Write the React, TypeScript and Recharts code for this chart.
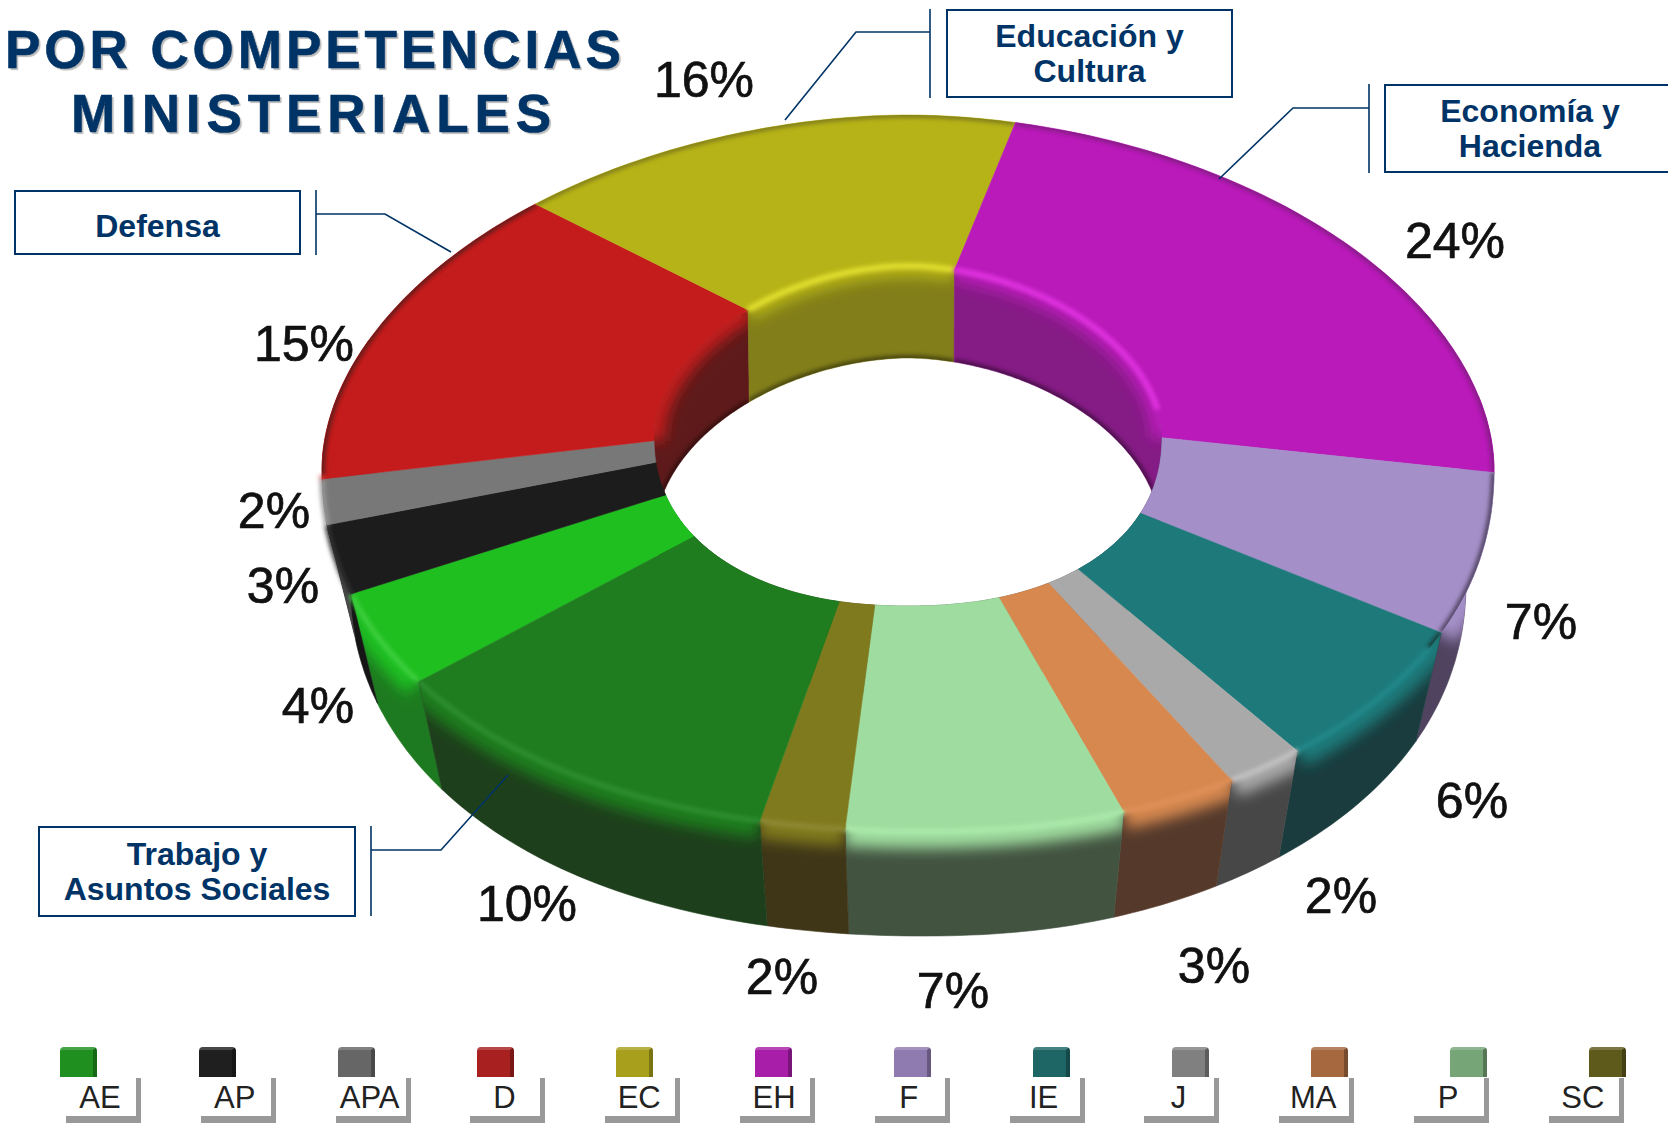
import React from 'react';
import { PieChart, Pie, Legend } from 'recharts';

// clockwise from the dark green / bright green seam
const categories = ['AE', 'AP', 'APA', 'D', 'EC', 'EH', 'F', 'IE', 'J', 'MA', 'P', 'SC', 'TAS'];
const shares = [4, 3, 2, 15, 16, 24, 7, 6, 2, 3, 7, 2, 10];
const sliceColors = ['#1FBF20', '#1C1C1C', '#787878', '#C41C1C', '#B6B318', '#B91AB9', '#A58FC8', '#1E7A7A', '#A9A9A9', '#D6884F', '#9FDC9F', '#807A1E', '#1F7D1F'];
const wallColors = ['#1E7A20', '#151515', '#4A4A4A', '#5E1A1A', '#827E1A', '#851B85', '#4F4360', '#1A3C3E', '#474747', '#553A2B', '#425340', '#3F3618', '#1E3F1C'];
const rimColors = ['#3FD040', '#333333', '#999999', '#D84040', '#E2DF2E', '#E030E0', '#C0B0DC', '#22888A', '#C4C4C4', '#E09058', '#ACEBAC', '#8F8A35', '#2F8F33'];
const legendColors = ['#1F8F1F', '#1F1F1F', '#666666', '#A82020', '#A8A01C', '#A81EA8', '#8F7BB0', '#1E6666', '#808080', '#A5683F', '#76A678', '#5E5A1C'];

const chartData = categories.map((name, i) => ({ name, value: shares[i], fill: sliceColors[i] }));

const NAVY = '#003366';
const FONT = '"Liberation Sans", Arial, sans-serif';

// tilted ring: two ellipses per edge, and a perspective factor that squeezes the far side
const TILT = 0.121;
const OUTER = { rx: 586, ry: 354, cy: 469, nearP: 2.14, farP: 1.9, nearY: 1.024, skew: 15 };
const OUTER_BASE = { rx: 558, ry: 355, cy: 581, nearP: 2.14, farP: 2, nearY: 1, skew: 15 };
const INNER = { rx: 254, ry: 170, cy: 436, nearP: 2.2, farP: 1.85, nearY: 1, skew: 0 };
const INNER_BASE = { rx: 252, ry: 170, cy: 528, nearP: 2, farP: 1.85, nearY: 1, skew: 0 };
const CX = 908;
const START = -139.4;

const labelSpots = [
  [318, 723], [283, 603], [274, 528], [304, 361], [704, 97], [1455, 258], [1541, 639],
  [1472, 818], [1341, 913], [1214, 983], [953, 1008], [782, 994], [527, 921],
];

const project = (ring: any, theta: number) => {
  const a = (theta * Math.PI) / 180;
  const d = 1 - TILT * -Math.cos(a);
  const u = (Math.sin(a) * Math.sqrt(1 - TILT * TILT)) / d;
  const v = (-Math.cos(a) - TILT) / d;
  const p = v > 0 ? ring.nearP : ring.farP;
  const f = Math.pow(Math.pow(Math.abs(u), p) + Math.pow(Math.abs(v), p), -1 / p);
  const skew = v > 0 ? ring.skew * Math.pow(v, 12) : 0;
  return [CX + ring.rx * u * f + skew, ring.cy + ring.ry * v * f * (v > 0 ? ring.nearY : 1)];
};

const arcPoints = (ring: any, from: number, to: number) => {
  const steps = Math.max(2, Math.ceil(Math.abs(to - from)));
  const pts = [];
  for (let i = 0; i <= steps; i++) pts.push(project(ring, from + ((to - from) * i) / steps));
  return pts;
};

const toD = (pts: number[][], close = false) =>
  pts.map((p, i) => `${i ? 'L' : 'M'}${p[0].toFixed(1)},${p[1].toFixed(1)}`).join('') + (close ? 'Z' : '');

const band = (a: any, b: any, from: number, to: number) =>
  toD([...arcPoints(a, from, to), ...arcPoints(b, to, from)], true);

// Recharts angles run counter-clockwise from 3 o'clock
const clockwise = (props: any) => [90 - props.startAngle, 90 - props.endAngle];

const overlap = (from: number, to: number, lo: number, hi: number) => {
  const f = Math.max(from, lo);
  const t = Math.min(to, hi);
  return t > f ? [f, t] : null;
};

const WallSector = (props: any) => {
  const [from, to] = clockwise(props);
  const i = categories.indexOf(props.name);
  const near = overlap(from, to, 85, 285) || overlap(from, to, 445, 645);
  const inner = band(INNER, INNER_BASE, from, to);
  return (
    <g>
      <clipPath id={`hole-${i}`}>
        <path d={inner} />
      </clipPath>
      <path d={inner} fill={wallColors[i]} stroke={wallColors[i]} strokeWidth={0.6} />
      <g clipPath={`url(#hole-${i})`}>
        <path d={toD(arcPoints(INNER, from, to))} fill="none" stroke={props.fill} strokeWidth={22} filter="url(#wide)" />
        <path d={toD(arcPoints(INNER_BASE, from, to))} fill="none" stroke="#000" strokeOpacity={0.45} strokeWidth={6} filter="url(#soft)" />
      </g>
      {near && (
        <g>
          <clipPath id={`side-${i}`}>
            <path d={band(OUTER, OUTER_BASE, near[0], near[1])} />
          </clipPath>
          <path d={band(OUTER, OUTER_BASE, near[0], near[1])} fill={wallColors[i]} stroke={wallColors[i]} strokeWidth={0.6} />
          <path d={toD(arcPoints(OUTER, near[0], near[1]))} fill="none" stroke={props.fill} strokeWidth={34} filter="url(#wide)" clipPath={`url(#side-${i})`} />
        </g>
      )}
    </g>
  );
};

const FaceSector = (props: any) => {
  const [from, to] = clockwise(props);
  const i = categories.indexOf(props.name);
  const face = band(OUTER, INNER, from, to);
  const near = overlap(from, to, 115, 262) || overlap(from, to, 485, 622);
  const far = overlap(from, to, 262, 485);
  const innerFar = overlap(from, to, 315, 448);
  return (
    <g>
      <clipPath id={`face-${i}`}>
        <path d={face} />
      </clipPath>
      <path d={face} fill={props.fill} stroke={props.fill} strokeWidth={0.6} />
      {far && (
        <path d={toD(arcPoints(OUTER, far[0], far[1]))} fill="none" stroke={wallColors[i]} strokeWidth={6}
          filter="url(#soft)" clipPath={`url(#face-${i})`} />
      )}
      {near && (
        <path d={toD(arcPoints(OUTER, near[0], near[1]))} fill="none" stroke={rimColors[i]} strokeWidth={5}
          filter="url(#soft)" />
      )}
      {innerFar && (
        <path d={toD(arcPoints(INNER, innerFar[0], innerFar[1]))} fill="none" stroke={rimColors[i]} strokeWidth={6}
          filter="url(#soft)" />
      )}
    </g>
  );
};

const PercentLabel = (props: any) => {
  const spot = labelSpots[props.index];
  return (
    <text x={spot[0]} y={spot[1]} textAnchor="middle" fontFamily={FONT} fontSize={50} fill="#111" stroke="#111" strokeWidth={0.7}>
      {props.value}%
    </text>
  );
};

const LegendStrip = () => {
  const items = categories.slice(0, legendColors.length);
  return (
    <div style={{ position: 'relative', width: 1668, height: 80, fontFamily: FONT }}>
      {items.map((name, i) => {
        const chipLeft = 60 + 139 * i;
        const boxRight = 141 + 134.8 * i;
        return (
          <React.Fragment key={name}>
            <div style={{
              position: 'absolute', left: chipLeft, top: 4, width: 37, height: 30, borderRadius: '4px 4px 0 0',
              background: legendColors[i], boxSizing: 'border-box',
              borderTop: '3px solid rgba(255,255,255,0.18)', borderRight: '4px solid rgba(0,0,0,0.28)',
            }} />
            <div style={{ position: 'absolute', left: boxRight - 75, top: 35, width: 75, height: 45, boxSizing: 'border-box', borderRight: '5px solid #999', borderBottom: '7px solid #999' }} />
            <div style={{ position: 'absolute', left: boxRight - 91, top: 37, width: 100, textAlign: 'center', fontSize: 31, lineHeight: '36px', color: '#222', fontWeight: 400 }}>
              {name}
            </div>
          </React.Fragment>
        );
      })}
    </div>
  );
};

const calloutBoxes = [
  { lines: ['Educación y', 'Cultura'], left: 946, top: 9, width: 287, height: 89, pad: 0 },
  { lines: ['Economía y', 'Hacienda'], left: 1384, top: 84, width: 292, height: 89, pad: 0 },
  { lines: ['Defensa'], left: 14, top: 190, width: 287, height: 65, pad: 8 },
  { lines: ['Trabajo y', 'Asuntos Sociales'], left: 38, top: 826, width: 318, height: 91, pad: 0 },
];

const leaders = [
  'M930,9V98M930,32H856L785,120',
  'M1369,84V173M1369,108H1293L1219,179',
  'M316,190V255M316,214H385L451,252',
  'M371,826V916M371,850H441L508,775',
];

const titleStyle: React.CSSProperties = {
  position: 'absolute', fontFamily: FONT, fontWeight: 700, fontSize: 53, lineHeight: '60px', color: NAVY,
  textShadow: '2px 2px 1px #bbbbbb', whiteSpace: 'nowrap', WebkitTextStroke: `0.6px ${NAVY}`,
};

const App = () => {
  return (
    <div style={{ position: 'absolute', left: 0, top: 0, width: 1668, height: 1123, overflow: 'hidden', background: '#fff' }}>
      <PieChart width={1668} height={1123} margin={{ top: 0, right: 0, bottom: 0, left: 0 }}>
        <defs>
          <filter id="soft" filterUnits="userSpaceOnUse" x="0" y="0" width="1668" height="1123">
            <feGaussianBlur stdDeviation="2" />
          </filter>
          <filter id="wide" filterUnits="userSpaceOnUse" x="0" y="0" width="1668" height="1123">
            <feGaussianBlur stdDeviation="7" />
          </filter>
        </defs>
        <Pie data={chartData} dataKey="value" nameKey="name" cx={CX} cy={426} outerRadius={586} innerRadius={252}
          startAngle={START} endAngle={START - 360} isAnimationActive={false} legendType="none" shape={WallSector} />
        <Pie data={chartData} dataKey="value" nameKey="name" cx={CX} cy={426} outerRadius={586} innerRadius={252}
          startAngle={START} endAngle={START - 360} isAnimationActive={false} shape={FaceSector}
          label={PercentLabel} labelLine={false} />
        <Legend content={LegendStrip} wrapperStyle={{ position: 'absolute', left: 0, top: 1043, width: 1668, height: 80 }} />
      </PieChart>

      <div style={{ ...titleStyle, left: 5, top: 20, letterSpacing: 3.95 }}>POR COMPETENCIAS</div>
      <div style={{ ...titleStyle, left: 71, top: 84, letterSpacing: 5.9 }}>MINISTERIALES</div>

      <svg width={1668} height={1123} style={{ position: 'absolute', left: 0, top: 0, pointerEvents: 'none' }}>
        {leaders.map((d) => (
          <path key={d} d={d} fill="none" stroke={NAVY} strokeWidth={1.6} />
        ))}
      </svg>

      {calloutBoxes.map((box) => (
        <div key={box.lines[0]} style={{
          position: 'absolute', left: box.left, top: box.top, width: box.width, height: box.height, boxSizing: 'border-box',
          border: `2px solid ${NAVY}`, background: '#fff', color: NAVY, fontFamily: FONT, fontWeight: 700, fontSize: 32,
          lineHeight: '35px', textAlign: 'center', display: 'flex', flexDirection: 'column', justifyContent: 'center', paddingTop: box.pad,
        }}>
          {box.lines.map((line) => (
            <div key={line} style={{ whiteSpace: 'nowrap' }}>{line}</div>
          ))}
        </div>
      ))}
    </div>
  );
};

export default App;
